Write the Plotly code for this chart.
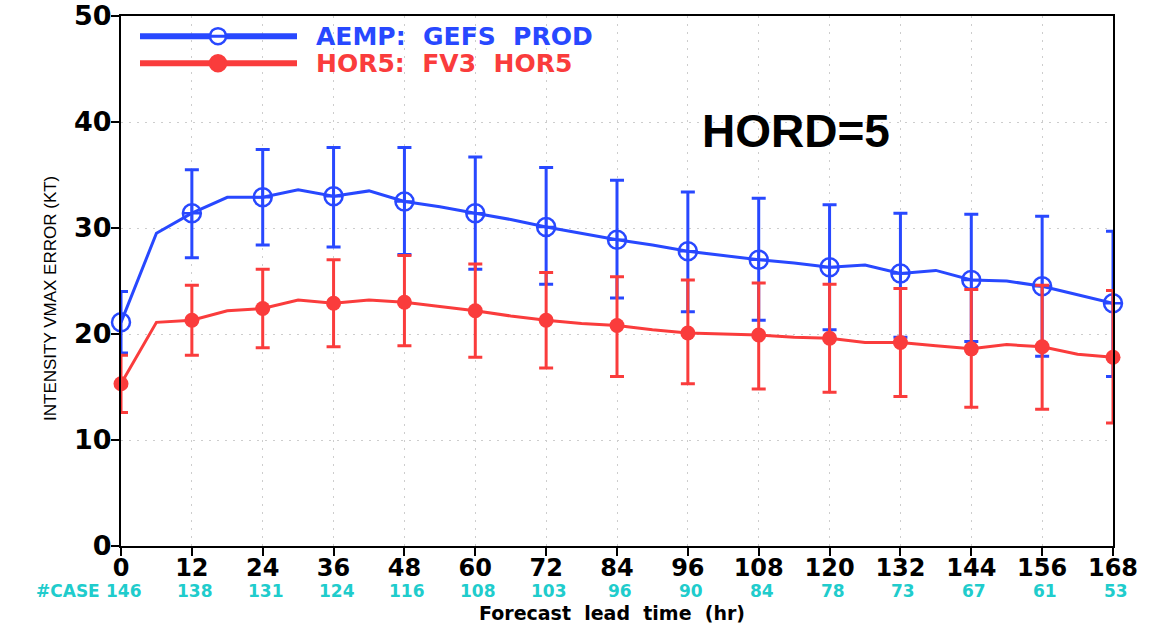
import plotly.graph_objects as go

# Forecast lead times (hr): line vertices every 6 h, markers/error bars every 12 h
hours = list(range(0, 169, 6))
marker_hours = list(range(0, 169, 12))

# Mean intensity (VMAX) error, KT
gefs_mean = [21.1, 29.5, 31.4, 32.9, 32.9, 33.6, 33.0, 33.5, 32.5, 32.0,
             31.4, 30.8, 30.1, 29.5, 28.9, 28.4, 27.8, 27.4, 27.0, 26.7,
             26.3, 26.5, 25.7, 26.0, 25.1, 25.0, 24.5, 23.7, 22.9]
hor5_mean = [15.3, 21.1, 21.3, 22.2, 22.4, 23.2, 22.9, 23.2, 23.0, 22.6,
             22.2, 21.7, 21.3, 21.0, 20.8, 20.4, 20.1, 20.0, 19.9, 19.7,
             19.6, 19.2, 19.2, 18.9, 18.6, 19.0, 18.8, 18.1, 17.8]

# Error bar bounds at the 12-hourly markers
gefs_upper = [24.0, 35.5, 37.4, 37.6, 37.6, 36.7, 35.7, 34.5, 33.4, 32.8, 32.2, 31.4, 31.3, 31.1, 29.7]
gefs_lower = [18.2, 27.2, 28.4, 28.2, 27.5, 26.1, 24.7, 23.4, 22.1, 21.3, 20.4, 19.7, 19.3, 17.9, 16.0]
hor5_upper = [18.0, 24.6, 26.1, 27.0, 27.4, 26.6, 25.8, 25.4, 25.1, 24.8, 24.7, 24.3, 24.2, 24.6, 24.1]
hor5_lower = [12.6, 18.0, 18.7, 18.8, 18.9, 17.8, 16.8, 16.0, 15.3, 14.8, 14.5, 14.1, 13.1, 12.9, 11.6]

# Number of verifying cases per lead time
case_counts = [146, 138, 131, 124, 116, 108, 103, 96, 90, 84, 78, 73, 67, 61, 53]

y_ticks = [0, 10, 20, 30, 40, 50]

BLUE = "rgb(40,72,255)"
RED = "rgb(250,60,60)"
CYAN = "rgb(32,204,204)"
NB = "\u00a0"


def at_markers(series):
    return [series[hours.index(h)] for h in marker_hours]


fig = go.Figure()

series = [
    ("AEMP: GEFS PROD", gefs_mean, gefs_upper, gefs_lower, BLUE,
     dict(symbol=["circle-open"] + ["circle-cross-open"] * (len(marker_hours) - 1),
          size=18, color=BLUE, line=dict(color=BLUE, width=2.5))),
    ("HOR5: FV3 HOR5", hor5_mean, hor5_upper, hor5_lower, RED,
     dict(symbol="circle", size=15, color=RED, line=dict(width=0))),
]

for name, mean, upper, lower, color, marker in series:
    fig.add_trace(go.Scatter(
        x=hours, y=mean, mode="lines", name=name,
        line=dict(color=color, width=3), cliponaxis=False, showlegend=False,
    ))
    m = at_markers(mean)
    fig.add_trace(go.Scatter(
        x=marker_hours, y=m, mode="markers", name=name,
        marker=marker, cliponaxis=False, showlegend=False,
        error_y=dict(type="data", symmetric=False,
                     array=[u - v for u, v in zip(upper, m)],
                     arrayminus=[v - l for v, l in zip(m, lower)],
                     color=color, thickness=3, width=7),
    ))

# Legend drawn as line + marker + label in paper space
legend_rows = [
    ("AEMP:" + NB * 2 + "GEFS" + NB * 2 + "PROD", BLUE, 0.962, "open"),
    ("HOR5:" + NB * 2 + "FV3" + NB * 2 + "HOR5", RED, 0.911, "filled"),
]
x0_leg, x1_leg, xm_leg = (140 - 121) / 992, (297 - 121) / 992, (218 - 121) / 992
for label, color, yp, style in legend_rows:
    fig.add_shape(type="line", xref="paper", yref="paper",
                  x0=x0_leg, x1=x1_leg, y0=yp, y1=yp,
                  line=dict(color=color, width=6))
    fig.add_shape(type="circle", xref="paper", yref="paper",
                  xsizemode="pixel", ysizemode="pixel",
                  xanchor=xm_leg, yanchor=yp, x0=-8, x1=8, y0=-8, y1=8,
                  fillcolor="white" if style == "open" else color,
                  line=dict(color=color, width=2.5))
    if style == "open":
        fig.add_shape(type="line", xref="paper", yref="paper",
                      x0=x0_leg, x1=x1_leg, y0=yp, y1=yp,
                      line=dict(color=color, width=3))
    fig.add_annotation(text=label, xref="paper", yref="paper",
                       x=(314 - 121) / 992, y=yp, xanchor="left", yanchor="middle",
                       showarrow=False,
                       font=dict(family="DejaVu Sans", size=25, color=color, weight="bold"))

# Case counts under each tick
for h, n in zip(marker_hours, case_counts):
    fig.add_annotation(text=str(n), x=h, xref="x", y=(546 - 591) / 530, yref="paper",
                       xanchor="center", yanchor="middle", xshift=3, showarrow=False,
                       font=dict(family="DejaVu Sans", size=17, color=CYAN, weight="bold"))
fig.add_annotation(text="#CASE", x=(102 - 121) / 992, xref="paper",
                   y=(546 - 591) / 530, yref="paper", xanchor="right", yanchor="middle",
                   showarrow=False,
                   font=dict(family="DejaVu Sans", size=17, color=CYAN, weight="bold"))

# Axis titles
fig.add_annotation(text="Forecast" + NB * 2 + "lead" + NB * 2 + "time" + NB * 2 + "(hr)",
                   x=(612 - 121) / 992, xref="paper", y=(546 - 613) / 530, yref="paper",
                   xanchor="center", yanchor="middle", showarrow=False,
                   font=dict(family="DejaVu Sans", size=19, color="black", weight="bold"))
fig.add_annotation(text="INTENSITY VMAX ERROR (KT)", textangle=-90,
                   x=(50 - 121) / 992, xref="paper", y=(546 - 299) / 530, yref="paper",
                   xanchor="center", yanchor="middle", showarrow=False,
                   font=dict(family="Liberation Sans", size=17, color="black"))

fig.add_annotation(text="HORD=5", x=(796 - 121) / 992, xref="paper",
                   y=(546 - 131) / 530, yref="paper", xanchor="center", yanchor="middle",
                   showarrow=False,
                   font=dict(family="Liberation Sans", size=46, color="black", weight="bold"))

axis_common = dict(
    showline=True, linecolor="black", linewidth=2, mirror=True,
    ticks="outside", ticklen=8, tickwidth=2, tickcolor="black",
    showgrid=True, gridcolor="rgb(205,205,205)", gridwidth=1, griddash="2px,6px",
    zeroline=False, automargin=False,
)
fig.update_xaxes(range=[0, 168], tickvals=marker_hours, ticklabelstandoff=-9,
                 tickfont=dict(family="DejaVu Sans", size=24, color="black", weight="bold"),
                 **axis_common)
fig.update_yaxes(range=[0, 50], tickvals=y_ticks, ticklabelstandoff=-6,
                 tickfont=dict(family="DejaVu Sans", size=27, color="black", weight="bold"),
                 **axis_common)

fig.update_layout(
    width=1155, height=625,
    margin=dict(l=121, r=42, t=16, b=79, autoexpand=False),
    paper_bgcolor="white", plot_bgcolor="white",
    showlegend=False,
)

fig.write_html("out.html")
